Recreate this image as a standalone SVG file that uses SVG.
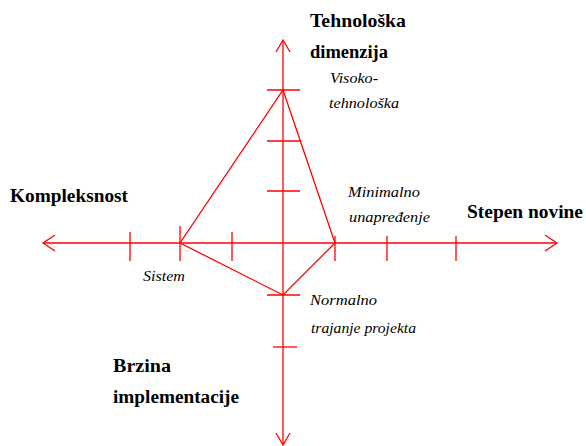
<svg xmlns="http://www.w3.org/2000/svg" width="586" height="446" viewBox="0 0 586 446">
<style>
.ax{stroke:#ff0000;stroke-width:1.3;fill:none}
.b{font-family:'Liberation Serif','Times New Roman',serif;font-weight:bold;font-size:18px;fill:#000}
.i{font-family:'Liberation Serif','Times New Roman',serif;font-style:italic;font-size:14px;fill:#000}
</style>
<rect width="586" height="446" fill="#fff"/>
<g id="connectors" class="ax">
<line x1="43" y1="243" x2="556" y2="243"/>
<polyline points="55,235 43,243 55,251"/>
<polyline points="545,235 557,243 545,251"/>
<line x1="283" y1="40" x2="283" y2="444"/>
<polyline points="276,52 283,40 290,52"/>
<polyline points="276,433 283,445 290,433"/>
<line x1="130" y1="232" x2="130" y2="261"/>
<line x1="180" y1="226" x2="180" y2="261"/>
<line x1="232" y1="232" x2="232" y2="261"/>
<line x1="335" y1="236" x2="335" y2="261"/>
<line x1="387" y1="236" x2="387" y2="261"/>
<line x1="456" y1="236" x2="456" y2="261"/>
<line x1="267" y1="90" x2="300" y2="90"/>
<line x1="267" y1="141" x2="300" y2="141"/>
<line x1="267" y1="191" x2="300" y2="191"/>
<line x1="267" y1="295" x2="300" y2="295"/>
<line x1="273" y1="347" x2="297" y2="347"/>
<polygon points="283,90 335,243 283,295 180,243"/>
</g>
<g id="n-tehnoloska"><text class="b" x="310" y="27" textLength="96" lengthAdjust="spacingAndGlyphs">Tehnološka</text><text class="b" x="310" y="58" textLength="78" lengthAdjust="spacingAndGlyphs">dimenzija</text></g>
<g id="n-kompleksnost"><text class="b" x="10" y="202" textLength="118" lengthAdjust="spacingAndGlyphs">Kompleksnost</text></g>
<g id="n-stepen"><text class="b" x="467" y="218" textLength="116" lengthAdjust="spacingAndGlyphs">Stepen novine</text></g>
<g id="n-brzina"><text class="b" x="113" y="372" textLength="58" lengthAdjust="spacingAndGlyphs">Brzina</text><text class="b" x="113" y="403" textLength="126" lengthAdjust="spacingAndGlyphs">implementacije</text></g>
<g id="n-visoko"><text class="i" x="330" y="83" textLength="48" lengthAdjust="spacingAndGlyphs">Visoko-</text><text class="i" x="329" y="108" textLength="70" lengthAdjust="spacingAndGlyphs">tehnološka</text></g>
<g id="n-minimalno"><text class="i" x="348" y="197" textLength="72" lengthAdjust="spacingAndGlyphs">Minimalno</text><text class="i" x="349" y="222" textLength="81" lengthAdjust="spacingAndGlyphs">unapređenje</text></g>
<g id="n-sistem"><text class="i" x="143" y="281" textLength="42" lengthAdjust="spacingAndGlyphs">Sistem</text></g>
<g id="n-normalno"><text class="i" x="310" y="305" textLength="67" lengthAdjust="spacingAndGlyphs">Normalno</text><text class="i" x="311" y="333" textLength="105" lengthAdjust="spacingAndGlyphs">trajanje projekta</text></g>
</svg>
